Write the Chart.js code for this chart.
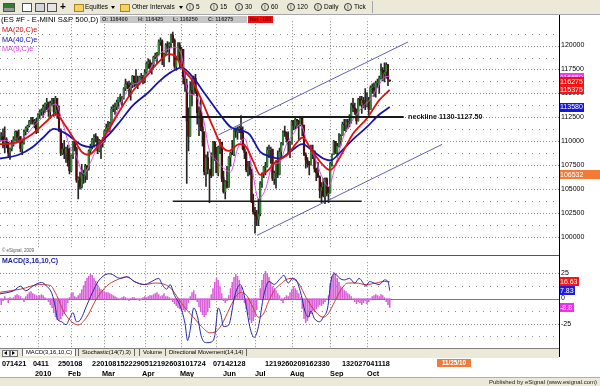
<!DOCTYPE html>
<html>
<head>
<meta charset="utf-8">
<title>ES #F - E-MINI S&amp;P 500, Daily</title>
<script src="https://cdn.jsdelivr.net/npm/chart.js@4.4.1/dist/chart.umd.min.js"></script>
<style>
  html, body { margin: 0; padding: 0; }
  body { width: 600px; height: 386px; overflow: hidden; position: relative; background: #fff;
         font-family: "Liberation Sans", Arial, sans-serif; color: #000; }
  .abs { position: absolute; white-space: nowrap; }
  canvas { position: absolute; left: 0; }
  #toolbar { position: absolute; left: 0; top: 0; width: 600px; height: 14px; background: #ece9d8; border-bottom: 1px solid #a7a6aa; }
  .ico { position: absolute; top: 3px; height: 7px; border: 1px solid #505050; }
  .fold { position: absolute; top: 4px; width: 8px; height: 6px; background: #f2d36a; border: 1px solid #a98518; }
  .tbt { position: absolute; top: 2px; font-size: 6.5px; line-height: 10px; white-space: nowrap; }
  .tri { position: absolute; top: 6px; width: 0; height: 0; border-left: 2px solid transparent; border-right: 2px solid transparent; border-top: 3px solid #000; }
  .ci { position: absolute; top: 3px; width: 6px; height: 6px; border: 1px solid #333; border-radius: 50%; font-size: 5px; line-height: 6px; text-align: center; }
  .tab { position: absolute; top: 349px; height: 7px; font-size: 5.8px; line-height: 7px; padding: 0 3px; border-left: 1px solid #666; border-right: 1px solid #666; white-space: nowrap; }
</style>
</head>
<body>

<canvas id="priceChart" width="600" height="240" style="top:15px"></canvas>
<canvas id="macdChart" width="600" height="122" style="top:256px"></canvas>

<div id="toolbar">
  <i class="ico" style="left:3px;width:10px;background:linear-gradient(#2f7d2f 0 55%,#9a9a9a 55%)"></i>
  <i class="ico" style="left:22px;width:8px;background:#fff"></i>
  <i class="ico" style="left:35px;width:8px;background:#d6d6d6"></i>
  <i class="ico" style="left:47px;width:8px;background:#e6e6e6"></i>
  <b class="abs" style="left:60px;top:0;font-size:10px;line-height:13px">+</b>
  <i class="fold" style="left:74px"></i>
  <span class="tbt" style="left:85px">Equities</span>
  <i class="tri" style="left:111px"></i>
  <i class="fold" style="left:120px"></i>
  <span class="tbt" style="left:132px">Other Intervals</span>
  <i class="tri" style="left:179px"></i>
  <span class="ci" style="left:186px">I</span><span class="tbt" style="left:196px">5</span>
  <span class="ci" style="left:210px">I</span><span class="tbt" style="left:220px">15</span>
  <span class="ci" style="left:235px">I</span><span class="tbt" style="left:245px">30</span>
  <span class="ci" style="left:261px">I</span><span class="tbt" style="left:271px">60</span>
  <span class="ci" style="left:287px">I</span><span class="tbt" style="left:297px">120</span>
  <span class="ci" style="left:314px">I</span><span class="tbt" style="left:324px">Daily</span>
  <span class="ci" style="left:344px">I</span><span class="tbt" style="left:354px">Tick</span>
  <i class="abs" style="left:372px;top:1px;width:1px;height:12px;background:#a7a6aa"></i>
</div>

<!-- title row -->
<div class="abs" style="left:1px;top:15px;font-size:7.7px;line-height:9px">(ES #F - E-MINI S&amp;P 500,D)</div>
<div class="abs" style="left:100px;top:16px;width:147px;height:7px;background:#c6c6c6"></div>
<div class="abs" style="left:102px;top:16px;font-weight:bold;font-size:5.5px;line-height:7px;color:#333">O: 116400</div>
<div class="abs" style="left:138px;top:16px;font-weight:bold;font-size:5.5px;line-height:7px;color:#333">H: 116425</div>
<div class="abs" style="left:173px;top:16px;font-weight:bold;font-size:5.5px;line-height:7px;color:#333">L: 116250</div>
<div class="abs" style="left:208px;top:16px;font-weight:bold;font-size:5.5px;line-height:7px;color:#333">C: 116275</div>
<div class="abs" style="left:248px;top:16px;width:25px;height:7px;background:#f01010;color:#8a0000;font-weight:bold;font-size:5.5px;line-height:7px;text-align:center">Net -180</div>

<!-- study legends -->
<div class="abs" style="left:2px;top:26px;font-size:7.3px;line-height:8px;color:#e00000">MA(20,C)e</div>
<div class="abs" style="left:2px;top:35.5px;font-size:7.3px;line-height:8px;color:#0a0ab4">MA(40,C)e</div>
<div class="abs" style="left:2px;top:45px;font-size:7.3px;line-height:8px;color:#e040e0">MA(9,C)e</div>
<div class="abs" style="left:2px;top:248px;font-size:4.5px;line-height:5px;color:#555">© eSignal, 2009</div>
<div class="abs" style="left:2px;top:257px;font-weight:bold;font-size:7px;line-height:8px;color:#1c1ca0">MACD(3,16,10,C)</div>

<!-- panel frames -->
<div class="abs" style="left:0;top:255px;width:559px;height:1px;background:#555"></div>
<div class="abs" style="left:559px;top:15px;width:1px;height:342px;background:#000"></div>

<!-- study tabs -->
<div class="abs" style="left:0;top:348px;width:559px;height:9px;background:#ece9d8;border-top:1px solid #808080"></div>
<div class="abs" style="left:2px;top:350px;width:6px;height:5px;border:1px solid #777;background:#f4f4f4"></div>
<div class="abs" style="left:10px;top:350px;width:6px;height:5px;border:1px solid #777;background:#f4f4f4"></div>
<i class="abs" style="left:4px;top:351px;border-top:2px solid transparent;border-bottom:2px solid transparent;border-right:3px solid #000"></i>
<i class="abs" style="left:12px;top:351px;border-top:2px solid transparent;border-bottom:2px solid transparent;border-left:3px solid #000"></i>
<div class="tab" style="left:22px;background:#fff">MACD(3,16,10,C)</div>
<div class="tab" style="left:78px">Stochastic(14(7),3)</div>
<div class="tab" style="left:139px">Volume</div>
<div class="tab" style="left:165px">Directional Movement(14,14)</div>

<div class="abs" style="left:437px;top:359px;width:34px;height:8px;background:#f07a3c;color:#fff;font-weight:bold;font-size:6.3px;line-height:8px;text-align:center">11/25/10</div>

<div class="abs" style="left:0;top:377px;width:600px;height:9px;background:#ece9d8;border-top:1px solid #b0b0b0"></div>
<div class="abs" style="right:3px;top:378px;font-size:6px;line-height:8px;color:#222">Published by eSignal (www.esignal.com)</div>

<script>
// ES #F daily bars, Dec 1 2009 .. Oct 20 2010 (index 0 .. 223)
const opens = [
  1101,1105,1105,1096,1102,1099,1088,1092,1098,1102,1110,1104,1105,1092,1098,1110,1114,1116,1121,1122,1120,1120,
  1110,1128,1131,1132,1136,1139,1141,1131,1140,1143,1131,1145,1133,1112,1087,1092,1087,1092,1080,
  1069,1085,1099,1093,1059,1062,1052,1066,1064,1074,1071,1090,1095,1102,1105,1104,1090,1101,1098,
  1100,1111,1114,1115,1119,1134,1134,1136,1141,1146,1146,1147,1155,1160,1159,1153,1159,1168,1162,1160,1161,1167,1167,
  1163,1172,1181,1183,1176,1180,1188,1190,1191,1204,1205,1186,1191,1201,1199,1202,1211,1206,1178,1185,1200,
  1180,1196,1167,1159,1121,1105,1153,1150,1166,1152,1130,1131,1115,1110,1068,1083,1070,1071,1064,1099,
  1086,1067,1094,1099,1061,1047,1058,1052,1083,1088,1086,1111,1110,1112,1114,1109,1092,1088,1070,1073,1070,1037,
  1026,1022,1018,1024,1056,1066,1073,1074,1091,1091,1092,1061,1067,1079,1065,1089,1098,1110,1109,1102,1097,
  1097,1121,1116,1123,1121,1117,1124,1117,1086,1080,1076,1075,1089,1090,1071,1067,1063,1048,1052,1043,1061,1045,
  1046,1077,1086,1100,1088,1095,1100,1106,1118,1117,1121,1120,1121,1138,1135,1130,1121,1144,1138,1143,1140,
  1137,1142,1133,1156,1156,1153,1161,1161,1166,1174,1170,1172,1180,1164
];
const highs = [
  1110,1109,1113,1115,1104,1099,1093,1101,1105,1111,1111,1112,1105,1100,1112,1115,1117,1122,1125,1125,1123,1124,
  1129,1133,1134,1138,1140,1145,1141,1142,1145,1145,1147,1145,1137,1113,1098,1101,1094,1096,1093,
  1086,1100,1100,1094,1063,1068,1076,1070,1076,1075,1091,1097,1103,1107,1108,1105,1102,1101,1104,
  1112,1118,1121,1120,1136,1138,1140,1143,1146,1149,1147,1156,1165,1162,1163,1161,1169,1168,1175,1168,1168,1171,1169,
  1175,1183,1186,1185,1182,1189,1192,1193,1206,1208,1206,1192,1202,1204,1203,1212,1214,1207,1189,1203,1203,
  1198,1196,1172,1165,1135,1162,1166,1168,1170,1152,1136,1145,1125,1110,1086,1089,1071,1088,1100,1100,
  1094,1095,1102,1099,1069,1059,1074,1084,1089,1101,1112,1114,1115,1116,1127,1115,1097,1089,1079,1079,1071,1045,
  1031,1028,1040,1058,1067,1074,1078,1094,1096,1094,1092,1069,1080,1090,1093,1099,1111,1116,1110,1110,1100,
  1122,1122,1125,1123,1122,1126,1124,1117,1088,1083,1079,1096,1096,1090,1072,1078,1064,1057,1061,1062,1062,1052,
  1078,1087,1101,1100,1098,1108,1107,1120,1123,1123,1123,1128,1140,1145,1140,1134,1145,1147,1147,1146,1155,
  1151,1146,1158,1160,1161,1163,1165,1168,1181,1177,1182,1182,1180,1164.25
];
const lows = [
  1099,1101,1093,1088,1093,1083,1081,1090,1095,1101,1099,1101,1089,1086,1097,1107,1110,1115,1118,1118,1114,1108,
  1109,1124,1127,1125,1130,1133,1126,1124,1137,1126,1127,1124,1110,1085,1086,1082,1078,1074,1066,
  1068,1082,1090,1057,1040,1050,1051,1056,1057,1060,1070,1087,1092,1094,1099,1087,1089,1082,1094,
  1099,1110,1111,1110,1118,1131,1128,1133,1134,1141,1137,1144,1153,1155,1147,1143,1156,1157,1158,1155,1159,1162,1160,
  1161,1170,1176,1172,1170,1178,1186,1181,1190,1200,1180,1178,1190,1193,1183,1198,1203,1176,1174,1185,1178,
  1178,1160,1152,1056,1090,1105,1137,1149,1150,1118,1106,1111,1095,1065,1053,1066,1036,1062,1064,1080,
  1067,1064,1087,1058,1046,1040,1051,1052,1074,1086,1085,1104,1102,1109,1102,1091,1082,1068,1064,1065,1036,1024,
  1004,1012,1012,1022,1052,1062,1065,1073,1083,1077,1059,1055,1051,1062,1065,1083,1096,1105,1099,1088,1083,
  1097,1112,1113,1114,1102,1116,1106,1085,1072,1073,1065,1075,1082,1068,1059,1062,1041,1036,1042,1035,1043,1036,
  1046,1074,1086,1087,1085,1094,1096,1106,1111,1110,1113,1115,1119,1131,1128,1118,1121,1137,1129,1135,1133,
  1136,1128,1133,1150,1147,1146,1156,1150,1165,1163,1162,1166,1158,1162.5
];
const closes = [
  1105,1105,1096,1102,1099,1088,1092,1098,1102,1110,1104,1105,1092,1098,1110,1114,1116,1121,1122,1120,1120,1110,
  1128,1131,1132,1136,1139,1141,1131,1140,1143,1131,1145,1133,1112,1087,1092,1087,1092,1080,1069,
  1085,1099,1093,1059,1062,1052,1066,1064,1074,1071,1090,1095,1102,1105,1104,1090,1101,1098,1100,
  1111,1114,1115,1119,1134,1134,1136,1141,1146,1146,1147,1155,1160,1159,1153,1159,1168,1162,1160,1161,1167,1167,1163,
  1172,1181,1183,1176,1180,1188,1190,1191,1204,1205,1186,1191,1201,1199,1202,1211,1206,1178,1185,1200,1180,
  1196,1167,1159,1121,1105,1153,1150,1166,1152,1130,1131,1115,1110,1068,1083,1070,1071,1064,1099,1086,
  1067,1094,1099,1061,1047,1058,1052,1083,1088,1086,1111,1110,1112,1114,1109,1092,1088,1070,1073,1070,1037,1026,
  1022,1018,1024,1056,1066,1073,1074,1091,1091,1092,1061,1067,1079,1065,1089,1098,1110,1109,1102,1097,1097,
  1121,1116,1123,1121,1117,1124,1117,1086,1080,1076,1075,1089,1090,1071,1067,1063,1048,1052,1043,1061,1045,1046,
  1077,1086,1100,1088,1095,1100,1106,1118,1117,1121,1120,1121,1138,1135,1130,1121,1144,1138,1143,1140,1137,
  1142,1133,1156,1156,1153,1161,1161,1166,1174,1170,1172,1180,1164.5,1162.75
];

// moving averages: [bar index, value]
const ma20Pts = [[0,1097],[10,1099],[19,1108],[27,1121],[32,1129],[37,1118],[42,1104],[47,1089],[51,1086],[57,1097],
  [63,1114],[69,1133],[76,1152],[84,1168],[91,1183],[97,1191],[101,1188],[105,1175],[110,1164],[116,1141],[122,1115],
  [127,1095],[131,1090],[137,1097],[141,1094],[145,1079],[149,1065],[153,1069],[158,1079],[164,1085],[170,1099],
  [173,1104],[179,1089],[185,1075],[189,1070],[195,1085],[202,1108],[210,1124],[217,1143],[223,1153.75]];
const ma40Pts = [[0,1082],[11,1086],[19,1094],[25,1104],[31,1113],[38,1108],[47,1096],[52,1094],[57,1098],[63,1108],
  [69,1121],[76,1137],[85,1151],[91,1162],[97,1171],[104,1177],[110,1168],[118,1148],[126,1128],[132,1115],[139,1111],
  [143,1107],[149,1089],[155,1084],[160,1082],[166,1089],[173,1097],[179,1090],[185,1082],[189,1080],[195,1089],
  [202,1102],[210,1115],[217,1128],[223,1135.8]];
const ma9Pts = [[0,1100],[4,1101],[8,1097],[12,1101],[16,1108],[20,1117],[24,1124],[28,1134],[32,1139],[36,1120],
  [40,1095],[44,1084],[48,1066],[52,1078],[56,1094],[60,1101],[64,1117],[68,1135],[72,1150],[76,1159],[80,1162],
  [84,1170],[88,1181],[92,1192],[96,1196],[100,1198],[104,1190],[108,1150],[112,1148],[116,1128],[120,1090],[124,1080],
  [128,1072],[132,1068],[136,1092],[140,1103],[144,1075],[148,1040],[152,1050],[156,1075],[160,1078],[164,1097],
  [168,1108],[172,1118],[176,1097],[180,1084],[184,1064],[188,1053],[192,1075],[196,1102],[200,1117],[204,1128],
  [208,1137],[212,1144],[216,1156],[220,1167],[223,1168]];

// MACD(3,16,10): lines, histogram one value per bar
const macdPts = [[0,4.6],[8,7.7],[12,12.3],[15,7.7],[19,12.3],[24,16],[27,12.3],[30,4.6],[32,-9.3],[33,-20],[35.5,-23],
  [38,-26],[40,-20],[42,-14],[44,-23],[46,-21.6],[50,-6.2],[54,9.3],[57,18.5],[63,24.7],[69,20],[73,21.6],[77,17],
  [83,13.9],[86,16],[91,20],[93,13.9],[95.5,9.3],[97.5,13.9],[100,3.1],[103,-6.2],[106,-24.7],[107.5,-41.7],[109,-30.9],
  [111,-9.3],[113,-17],[115.5,-38.6],[118.5,-43.8],[121,-43.2],[123,-37],[125,-9.3],[126.5,-15.4],[128,-27.8],
  [131,-26.2],[134.5,3.1],[137.5,13.9],[139.5,6.2],[141,-7.7],[143,-27.8],[145.5,-38.6],[148,-27.8],[151,3.1],[154,17],
  [157,14],[160,19],[162.5,23],[165,15.4],[167.5,20],[169.5,18.5],[172.5,3.1],[174.5,-12.3],[176.5,-18.5],[178,-12.3],
  [180,-20],[183,-23],[185,-18.5],[187.5,-9.3],[189.5,18.5],[191.5,24.7],[194.5,20],[197,18.5],[200,20],[203,15.4],
  [205.5,20],[209.5,12.3],[211.5,17],[214,15.4],[217,13.9],[220,18.5],[222,17],[223,7.83]];
const signalPts = [[0,6.2],[12,9.3],[23,13.9],[29,13],[32.7,3.1],[36.5,-12.3],[40.3,-21.6],[45,-26.2],[49.8,-18.5],
  [55.5,0],[61.2,12.3],[67,18.5],[72.7,21.6],[77.4,16.5],[83,13.9],[89,15.4],[94.6,13.9],[98.4,9.3],[102.2,0],[106,-9.3],
  [110.8,-18.5],[115.5,-27.8],[120.2,-34],[123.1,-33.3],[126.9,-26.2],[131.6,-9.3],[135.5,3.1],[138.3,6.2],[141.2,3.1],
  [145,-9.3],[147.9,-18.5],[150.8,-15.4],[153.7,-3.1],[157,8],[160.3,13.9],[166,20],[170.8,15.4],[175.5,0],[180.2,-12.3],
  [184.9,-18.5],[187.7,-15.4],[191.5,-3.1],[195.3,9.3],[199.1,15.4],[203.8,15.4],[209.5,13.9],[215.2,15.4],[220,17],
  [223,16.63]];
const histVals = [
  -3,-6,-2,2,-1,-4,1, 0,1,3,4,3,2, -1,-3,2,4,6,7,5,4, 3,2,3,4,3,1,-1, -3,-6,-9,-14,
  -18,-21,-22,-20,-17,-15,-13, -4,1,5,6,2,1,3, 5,9,13,17,20,22, 24,23,20,17,14,11,9,
  8,7,6,6,5,4,3,2, 1,0,-1,1,2,1,-1,-2,0,1, 1,0,-1,-2,-1,1,2,1,2,3, 3,4,5,6,4,2,3,5,2,
  2,1,-1,-3, -5,-7,-9,-10,-12,-11,-13,-10, -4,2,6,8,4, -3,-8,-13,-16,-18,-16,-13,-9,
  4,10,16,20,18,12,5, -2,-4,-2,3, 10,16,21,24,22,18,12,5, -4,-10,-16,-21,-24,-22,-18,-11,
  0,10,18,24,27,25,21,16,12, 10,8,5,3, -2,-4,1,3,2, 6,9,12,10,8,5, 1,
  -10,-20,-24,-22,-18,-15,-12,-13,-10,-8,-6, -7,-5,-3,-1,3, 15,22,26,24,20,16,12,
  10,8,7,5,4,2, -1,-3,-5,-3,-4,-6,-4,-2,-5,-3,-1, 2,3,4,3,2,4,3,1, -3,-6,-8.8
];

// hand-drawn trendlines: [bar index, price]
const upperChannel = [[125, 1106.6], [233.4, 1203.7]];
const lowerChannel = [[147.1, 1001.8], [252.9, 1096.8]];
const neckline = [[104.3, 1125.5], [231, 1125.5]];
const supportLine = [[99, 1037.5], [207, 1037.5]];
const necklineLabel = 'neckline 1130-1127.50';
const necklineLabelAt = [233.5, 1125.5];

// axes
const priceTicks = [1000,1025,1050,1075,1100,1125,1150,1175,1200];
const priceHalfTicks = [1012.5,1037.5,1062.5,1087.5,1112.5,1137.5,1162.5,1187.5,1212.5];
const macdTicks = [25, 0, -25];
const macdHalfTicks = [12.5, -12.5, -37.5];
const monthStarts = [22, 41, 60, 83, 104, 124, 146, 167, 189, 210];
const dayLabelGroups = ['071421', '0411', '250108', '2201081522290512192603101724', '07142128', '1219260209162330', '132027041118'];
const dayLabelAt = [1.4, 19.1, 33.4, 52.9, 122, 151.7, 195.7];
const monthLabels = ['2010', 'Feb', 'Mar', 'Apr', 'May', 'Jun', 'Jul', 'Aug', 'Sep', 'Oct'];
const monthLabelAt = [20.3, 39.1, 58.6, 81.4, 103.1, 127.7, 146, 166, 188.9, 210];

// last-value flags on the right scale
const priceFlagVals = [1166.5, 1162.75, 1153.75, 1135.8, 1065.32];
const priceFlagColors = ['#ee3cee', '#f41010', '#ee1a1a', '#1414e6', '#f47a36'];
const priceFlagWidths = [25, 25, 25, 25, 41];
const macdFlagVals = [16.63, 7.83, -8.8];
const macdFlagColors = ['#f01818', '#1c1ce6', '#ee30ee'];

const FONT = '"Liberation Sans", Arial, sans-serif';
const X_MIN = 0.29, X_MAX = 319.72;   // 1.75 px per bar over the 559 px plot
const xy = pts => pts.map(p => ({ x: p[0], y: p[1] }));
const bars = closes.map((c, i) => i);

function gridPlugin(lines, sparse, zero) {
  return {
    id: 'panelGrid',
    beforeDatasetsDraw(chart) {
      const { ctx, chartArea: a } = chart;
      const xs = chart.scales.x, ys = chart.scales.y;
      ctx.save();
      ctx.strokeStyle = '#8a8a8a';
      ctx.lineWidth = 1;
      const hline = (v, dash) => {
        const py = Math.round(ys.getPixelForValue(v)) + 0.5;
        ctx.setLineDash(dash);
        ctx.beginPath(); ctx.moveTo(a.left, py); ctx.lineTo(a.right, py); ctx.stroke();
      };
      sparse.forEach(v => hline(v, [1, 6]));
      lines.forEach(v => hline(v, [1, 2]));
      ctx.setLineDash([1, 2]);
      monthStarts.forEach(i => {
        const px = Math.round(xs.getPixelForValue(i)) + 0.5;
        ctx.beginPath(); ctx.moveTo(px, a.top); ctx.lineTo(px, a.bottom); ctx.stroke();
      });
      if (zero !== null) { ctx.strokeStyle = '#7a7a7a'; hline(zero, []); }
      ctx.restore();
    }
  };
}

function flagPlugin(values, colors, texts, widths) {
  return {
    id: 'flagBoxes',
    afterDraw(chart) {
      const { ctx, chartArea: a } = chart;
      const ys = chart.scales.y;
      ctx.save();
      ctx.font = '7px ' + FONT;
      ctx.textBaseline = 'middle';
      values.forEach((v, k) => {
        const py = ys.getPixelForValue(v);
        const w = widths ? widths[k] : Math.ceil(ctx.measureText(texts[k]).width) + 2;
        ctx.fillStyle = colors[k];
        ctx.fillRect(a.right, Math.round(py - 4.5), w, 9);
        ctx.fillStyle = '#fff';
        ctx.fillText(texts[k], a.right + 1, py + 0.5);
      });
      ctx.restore();
    }
  };
}

const necklineText = {
  id: 'necklineText',
  afterDatasetsDraw(chart) {
    const { ctx } = chart;
    ctx.save();
    ctx.font = 'bold 7.2px ' + FONT;
    ctx.fillStyle = '#111';
    ctx.textBaseline = 'middle';
    ctx.fillText(necklineLabel, chart.scales.x.getPixelForValue(necklineLabelAt[0]), chart.scales.y.getPixelForValue(necklineLabelAt[1]));
    ctx.restore();
  }
};

const dateAxis = {
  id: 'dateAxis',
  afterDraw(chart) {
    const { ctx } = chart;
    const xs = chart.scales.x;
    ctx.save();
    ctx.fillStyle = '#000';
    ctx.font = 'bold 7.3px ' + FONT;
    dayLabelGroups.forEach((t, k) => ctx.fillText(t, xs.getPixelForValue(dayLabelAt[k]), 110));
    monthLabels.forEach((t, k) => ctx.fillText(t, xs.getPixelForValue(monthLabelAt[k]), 120));
    ctx.restore();
  }
};

const rightAxis = (min, max, ticks, label) => ({
  position: 'right', min: min, max: max, beginAtZero: false,
  afterBuildTicks: s => { s.ticks = ticks.map(v => ({ value: v })); },
  afterFit: s => { s.width = 41; },
  grid: { display: false, drawTicks: false },
  border: { display: true, color: '#000', width: 1 },
  ticks: { padding: 2, color: '#000', font: { family: FONT, size: 7 }, callback: label }
});

const commonOpts = {
  responsive: false, animation: false, events: [],
  plugins: { legend: { display: false }, tooltip: { enabled: false } }
};

const lineDs = (pts, color, width, order, smooth) => ({
  type: 'line', data: xy(pts), borderColor: color, borderWidth: width, pointRadius: 0,
  cubicInterpolationMode: smooth ? 'monotone' : 'default', tension: 0, order: order
});

new Chart(document.getElementById('priceChart'), {
  type: 'bar',
  data: {
    datasets: [
      lineDs(neckline, '#1a1a1a', 2, 1, false),
      lineDs(supportLine, '#1a1a1a', 1.5, 1, false),
      lineDs(upperChannel, '#6262b2', 1, 1, false),
      lineDs(lowerChannel, '#6262b2', 1, 1, false),
      lineDs(ma20Pts, '#e01010', 1.8, 4, true),
      lineDs(ma40Pts, '#1414b0', 1.8, 5, true),
      lineDs(ma9Pts, '#e050e0', 1, 6, true),
      {
        data: bars.map(i => ({ x: i, y: [opens[i], closes[i]] })),
        backgroundColor: bars.map(i => closes[i] >= opens[i] ? '#38883a' : '#521010'),
        borderColor: bars.map(i => closes[i] >= opens[i] ? '#1f4a20' : '#2a0606'),
        borderWidth: 0.4,
        barThickness: 1.8, minBarLength: 1, grouped: false, order: 8
      },
      {
        data: bars.map(i => ({ x: i, y: [lows[i], highs[i]] })),
        backgroundColor: '#262626', barThickness: 1, grouped: false, order: 9
      }
    ]
  },
  options: Object.assign({}, commonOpts, {
    layout: { padding: 0, autoPadding: false },
    scales: {
      x: { type: 'linear', min: X_MIN, max: X_MAX, display: false, offset: false },
      y: rightAxis(987.8, 1225.4, priceTicks, v => String(Math.round(v * 100)))
    }
  }),
  plugins: [
    gridPlugin(priceTicks, priceHalfTicks, null),
    necklineText,
    flagPlugin(priceFlagVals, priceFlagColors, priceFlagVals.map(v => String(Math.round(v * 100))), priceFlagWidths)
  ]
});

new Chart(document.getElementById('macdChart'), {
  type: 'bar',
  data: {
    datasets: [
      lineDs(macdPts, '#2626a8', 1, 1, true),
      lineDs(signalPts, '#c83c3c', 1, 2, true),
      {
        data: bars.map(i => ({ x: i, y: histVals[i] })),
        backgroundColor: '#d860d8', barThickness: 0.9, grouped: false, order: 3
      }
    ]
  },
  options: Object.assign({}, commonOpts, {
    layout: { padding: { left: 0, right: 0, top: 0, bottom: 30 }, autoPadding: false },
    scales: {
      x: { type: 'linear', min: X_MIN, max: X_MAX, display: false, offset: false },
      y: rightAxis(-49.1, 36.1, macdTicks, v => String(v))
    }
  }),
  plugins: [
    gridPlugin([25, -25], macdHalfTicks, 0),
    flagPlugin(macdFlagVals, macdFlagColors, macdFlagVals.map(v => String(v)), null),
    dateAxis
  ]
});
</script>
</body>
</html>
